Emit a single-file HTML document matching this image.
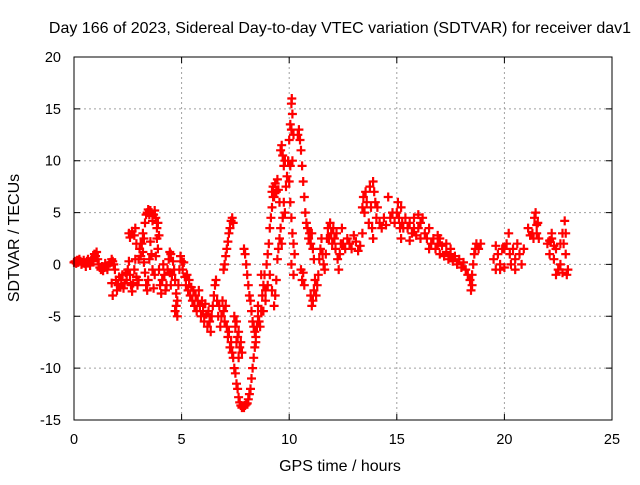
<!DOCTYPE html>
<html><head><meta charset="utf-8"><style>
body{margin:0;background:#fff;}
svg text{font-family:"Liberation Sans",sans-serif;fill:#000;}
</style></head><body>
<svg id="chart" width="640" height="480" xmlns="http://www.w3.org/2000/svg">
<rect width="640" height="480" fill="#fff"/>
<text x="340" y="33" font-size="16" text-anchor="middle">Day 166 of 2023, Sidereal Day-to-day VTEC variation (SDTVAR) for receiver dav1</text>
<g id="grid"></g>
<g id="ticks"></g>
<g id="pts"></g>
<rect x="74" y="57" width="538" height="363" fill="none" stroke="#000" stroke-width="1"/>
<text x="340" y="471" font-size="16" text-anchor="middle">GPS time / hours</text>
<text transform="translate(19,238) rotate(-90)" font-size="16" text-anchor="middle">SDTVAR / TECUs</text>
</svg>
<script>
const xTicks=[0,5,10,15,20,25];
const yTicks=[-15,-10,-5,0,5,10,15,20];
const hours=[
0.00,0.05,0.10,0.15,0.20,0.25,0.30,0.35,0.40,0.45,
0.50,0.55,0.60,0.65,0.70,0.75,0.80,0.85,0.90,0.95,
1.00,1.05,1.10,1.15,1.20,1.25,1.30,1.35,1.40,1.45,
1.50,1.55,1.60,1.70,1.75,1.80,1.85,1.90,1.95,2.00,
1.75,1.80,2.05,2.10,2.15,2.20,2.25,2.30,2.35,2.40,
2.45,2.50,2.55,2.60,2.65,2.70,2.75,2.80,2.85,2.90,
2.95,3.00,2.55,2.60,2.70,2.80,2.85,2.90,3.00,3.05,
3.10,3.15,3.20,3.25,3.30,3.35,3.40,3.45,3.50,3.55,
3.60,3.65,3.70,3.75,3.80,3.85,3.90,3.95,4.00,4.05,
4.10,4.15,4.20,4.25,4.30,3.30,3.35,3.40,3.45,3.50,
3.55,3.60,3.65,3.70,3.75,3.80,3.85,3.90,3.95,3.20,
3.25,3.10,4.35,4.40,4.45,4.50,4.55,4.60,4.65,4.70,
4.75,4.80,4.85,4.90,4.95,5.00,4.50,4.45,5.05,5.10,
4.70,4.80,4.75,5.15,5.20,5.25,5.30,5.35,5.40,5.45,
5.50,5.55,5.60,5.65,5.70,5.75,5.80,5.85,5.90,5.95,
6.00,6.05,6.10,6.15,6.20,6.25,6.30,6.35,6.40,6.45,
6.50,6.55,6.60,6.65,6.70,6.75,6.80,6.85,6.90,6.95,
7.00,7.05,7.10,7.15,7.20,7.25,7.30,7.35,7.40,7.45,
7.50,7.55,7.60,7.65,7.70,7.75,7.80,7.85,7.90,7.95,
8.00,8.05,8.10,8.15,8.20,8.25,8.30,8.35,8.40,8.45,
6.95,7.00,7.05,7.10,7.15,7.20,7.25,7.30,7.35,7.40,
7.45,7.50,7.55,7.60,7.65,7.70,7.75,7.80,7.55,7.65,
7.90,7.95,8.00,8.05,8.10,8.15,8.20,8.25,8.30,8.35,
8.40,8.45,8.50,8.55,8.50,8.55,8.60,8.65,8.70,8.75,
8.80,8.85,8.90,8.95,9.00,9.05,9.10,9.15,9.20,9.25,
8.70,8.80,8.90,9.00,9.10,9.20,9.30,9.35,9.40,9.45,
9.50,9.55,9.60,9.65,9.70,9.75,9.80,9.85,9.90,9.95,
9.20,9.25,9.30,9.35,9.40,9.45,9.50,9.55,9.60,9.65,
9.70,9.75,9.80,10.00,10.05,10.10,10.12,10.15,10.20,10.10,
10.00,10.05,10.10,10.15,10.20,10.25,10.10,10.20,10.05,10.15,
10.40,10.45,10.50,10.55,10.60,10.65,10.70,10.75,10.80,10.85,
10.90,10.95,11.00,11.05,11.10,11.15,10.55,10.60,10.65,10.70,
11.00,11.05,11.10,11.15,11.20,11.25,11.30,11.35,11.40,11.45,
11.50,11.55,11.60,11.65,11.70,11.75,11.80,11.85,11.90,11.95,
12.00,12.05,12.10,12.15,12.20,12.25,12.30,12.35,12.40,12.45,
12.50,12.60,12.70,12.80,12.90,13.00,13.10,13.20,13.30,13.40,
13.40,13.45,13.50,13.55,13.60,13.70,13.75,13.80,13.85,13.90,
13.90,13.95,14.00,14.05,14.10,14.20,14.30,14.40,14.50,14.60,
14.70,14.80,14.90,15.00,15.05,15.10,15.15,15.20,15.25,15.30,
15.40,15.50,15.60,15.70,15.80,15.90,16.00,16.10,16.20,16.30,
16.40,16.50,16.60,16.70,16.80,16.90,17.00,17.10,17.20,17.30,
17.40,17.50,17.60,17.70,17.80,17.90,18.00,18.10,18.20,18.30,
18.40,18.45,18.50,18.55,18.60,18.65,18.70,18.80,18.90,18.50,
16.00,16.10,16.90,17.30,15.20,15.60,15.80,16.50,17.00,17.50,
19.50,19.60,19.70,19.80,19.90,20.00,20.10,20.20,20.25,20.30,
20.40,20.50,20.60,20.70,20.80,20.90,19.60,20.00,20.50,19.80,
21.10,21.20,21.30,21.40,21.50,21.60,21.45,21.55,21.35,21.50,
22.00,22.10,22.20,22.30,22.40,22.50,22.60,22.70,22.80,22.85,
22.90,22.95,22.20,22.40,22.60,22.75,22.70,22.85,22.10,22.30
];
const sdtvar=[
0.2,0.3,0.1,0.4,0.2,0.5,0.3,0.0,0.2,0.4,
0.1,-0.2,0.3,0.5,0.2,-0.1,0.4,0.6,0.3,1.0,
0.8,1.2,0.5,0.0,-0.3,-0.5,-0.2,-0.6,-0.3,0.1,
-0.2,-0.5,-0.1,0.2,0.5,0.3,0.0,-0.5,-1.5,-2.5,
-1.8,-3.0,-2.0,-1.2,-2.2,-1.5,-1.0,-2.3,-1.8,-0.8,
-1.5,-0.5,0.3,-1.0,-2.0,-2.6,-1.8,-0.5,0.5,-1.2,
-2.0,-1.5,3.0,2.6,3.2,2.8,3.5,2.0,0.5,1.5,
0.8,2.0,1.2,0.2,-0.8,-2.0,-2.5,-1.5,0.5,2.2,
1.0,-0.5,-2.3,-1.0,0.8,2.5,1.5,-0.5,-2.0,-2.8,
-1.5,0.0,-1.0,-2.5,-2.0,4.0,4.8,5.0,5.3,4.8,
5.2,5.0,4.2,4.8,5.2,4.5,3.5,4.0,2.8,3.0,
2.5,2.0,-0.5,0.5,-0.8,-2.0,-1.0,0.3,-0.5,-1.5,
-2.8,-3.5,-2.0,-0.5,0.8,0.3,1.0,1.2,-0.5,0.2,
-4.5,-5.0,-4.0,-1.2,-2.0,-1.0,-2.5,-1.5,-3.0,-2.2,
-3.5,-2.5,-4.0,-3.0,-4.5,-3.5,-2.5,-4.0,-5.0,-3.5,
-4.5,-5.5,-3.8,-4.8,-6.0,-4.5,-5.5,-6.5,-5.0,-4.0,
-3.0,-2.0,-1.5,-3.5,-5.0,-4.0,-6.0,-5.0,-3.5,-4.5,
-5.5,-4.0,-6.0,-7.0,-6.5,-8.0,-7.5,-8.5,-9.0,-10.0,
-10.5,-11.5,-12.0,-12.8,-13.3,-13.6,-13.8,-13.7,-13.8,-13.6,
-13.5,-13.4,-13.0,-12.5,-12.0,-11.0,-10.0,-9.0,-8.0,-7.0,
-0.5,0.0,0.8,1.5,2.2,3.0,3.5,4.2,4.5,4.0,
-5.0,-6.0,-5.5,-7.0,-6.5,-8.0,-7.5,-8.5,-7.5,-9.0,
1.5,1.0,0.0,-1.0,-2.0,-3.0,-3.5,-4.5,-5.5,-6.0,
-6.5,-7.5,-6.0,-5.0,-6.0,-4.0,-5.5,-6.0,-4.5,-3.0,
-2.0,-1.0,-2.5,0.0,1.0,2.0,3.5,4.5,5.5,6.5,
-1.0,-4.5,-3.5,-2.0,-1.0,-2.5,-4.0,-3.0,-1.5,0.5,
1.5,2.5,3.5,2.0,4.5,6.0,5.0,7.5,8.5,10.0,
7.0,7.5,6.5,7.8,7.0,8.2,7.2,6.0,11.0,11.5,
10.5,9.5,10.0,12.0,13.5,15.5,16.0,14.5,12.5,13.0,
8.0,6.0,4.5,3.0,2.0,1.0,0.0,-1.0,9.5,10.0,
12.5,13.0,12.0,11.0,9.5,8.0,6.5,5.0,4.0,3.5,
2.5,3.0,2.0,3.0,1.5,0.5,-0.5,-1.5,-0.8,-2.0,
-3.0,-4.0,-3.5,-2.5,-1.5,-3.0,-2.0,-1.0,0.5,1.5,
2.5,1.0,0.0,-0.5,1.0,2.5,3.5,2.5,4.0,3.0,
2.0,3.5,2.5,1.5,3.0,0.5,-0.5,1.0,2.0,3.5,
2.0,1.5,2.5,2.0,1.5,2.8,2.2,1.3,1.8,3.0,
5.5,6.5,5.0,7.0,6.0,4.0,7.5,5.5,3.5,2.5,
8.0,7.0,6.0,4.5,5.5,4.0,3.5,4.5,3.8,6.5,
4.5,5.0,4.0,5.0,6.0,4.5,3.5,5.5,4.0,3.5,
4.5,3.5,4.0,3.0,3.5,2.8,3.5,2.5,4.5,3.0,
2.5,3.5,2.0,2.5,1.5,2.0,1.0,1.8,0.8,1.2,
0.5,1.0,0.3,0.8,0.0,0.5,-0.3,0.2,-0.5,-1.0,
-1.5,-2.5,-1.0,0.0,1.0,1.5,2.0,1.5,2.0,-2.0,
4.8,4.0,2.8,2.0,2.5,2.3,4.5,1.5,2.5,1.5,
0.5,-0.5,1.0,0.0,1.5,-0.3,2.0,3.0,1.0,0.0,
1.5,0.5,2.0,1.0,0.0,1.5,1.8,1.5,-0.5,-0.5,
3.5,2.8,3.0,4.5,3.8,2.5,5.0,4.0,2.5,3.0,
2.0,1.0,2.5,0.5,1.5,-0.5,2.0,3.0,4.2,1.0,
-1.0,-0.5,3.0,-1.0,0.0,2.0,-0.8,3.0,2.3,1.8
];
const NS='http://www.w3.org/2000/svg';
const X0=74,X1=612,Y0=420,Y1=57;
function xs(t){return X0+t/25*(X1-X0);}
function ys(v){return Y0-(v+15)/35*(Y0-Y1);}
const grid=document.getElementById('grid'),ticks=document.getElementById('ticks'),pts=document.getElementById('pts');
xTicks.forEach(t=>{
  const x=xs(t);
  if(t>0&&t<25){
    const l=document.createElementNS(NS,'line');
    
    
    l.setAttribute('x1',x);l.setAttribute('x2',x);l.setAttribute('y1',Y1);l.setAttribute('y2',Y0);
    l.setAttribute('stroke','#a0a0a0');l.setAttribute('stroke-dasharray','2,3');
    grid.appendChild(l);
  }
  const m=document.createElementNS(NS,'path');
  
  
  m.setAttribute('d',`M${x},${Y0}v-6M${x},${Y1}v6`);m.setAttribute('stroke','#000');
  grid.appendChild(m);
  const tx=document.createElementNS(NS,'text');
  
  
  tx.setAttribute('x',x);tx.setAttribute('y',444);tx.setAttribute('font-size','14.5');tx.setAttribute('text-anchor','middle');
  tx.textContent=t;
  ticks.appendChild(tx);
});
yTicks.forEach(v=>{
  const y=ys(v);
  if(v>-15&&v<20){
    const l=document.createElementNS(NS,'line');
    
    
    l.setAttribute('x1',X0);l.setAttribute('x2',X1);l.setAttribute('y1',y);l.setAttribute('y2',y);
    l.setAttribute('stroke','#a0a0a0');l.setAttribute('stroke-dasharray','2,3');
    grid.appendChild(l);
  }
  const m=document.createElementNS(NS,'path');
  
  
  m.setAttribute('d',`M${X0},${y}h6M${X1},${y}h-6`);m.setAttribute('stroke','#000');
  grid.appendChild(m);
  const tx=document.createElementNS(NS,'text');
  
  
  tx.setAttribute('x',61);tx.setAttribute('y',y+5);tx.setAttribute('font-size','14.5');tx.setAttribute('text-anchor','end');
  tx.textContent=v;
  ticks.appendChild(tx);
});
let d='';
for(let i=0;i<hours.length;i++){
  const x=xs(hours[i]),y=ys(sdtvar[i]);
  d+=`M${(x-4.5).toFixed(1)},${y.toFixed(1)}h9M${x.toFixed(1)},${(y-4.5).toFixed(1)}v9`;
}
const p=document.createElementNS(NS,'path');


p.setAttribute('d',d);p.setAttribute('stroke','#ff0000');p.setAttribute('stroke-width','2.2');p.setAttribute('fill','none');
pts.appendChild(p);
</script>
</body></html>
